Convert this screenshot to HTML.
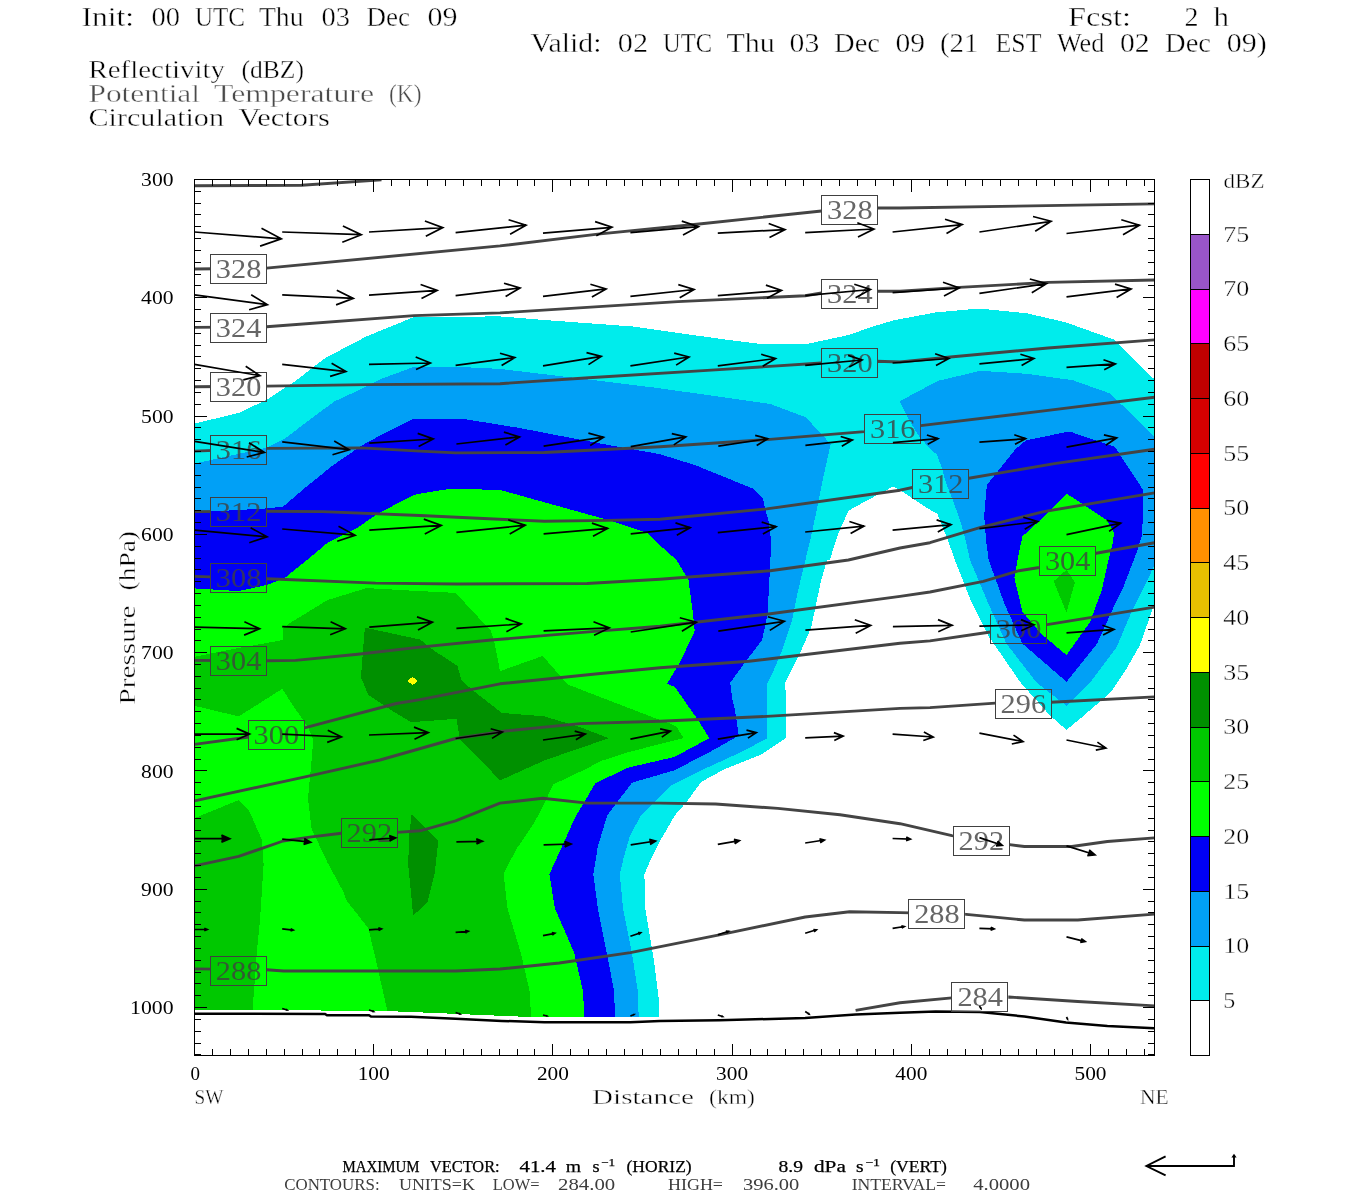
<!DOCTYPE html>
<html><head><meta charset="utf-8"><title>Cross section</title>
<style>
html,body{margin:0;padding:0;background:#fff}
svg{display:block}
text{font-family:"Liberation Serif",serif}
</style></head><body>
<svg width="1350" height="1200" viewBox="0 0 1350 1200">
<defs><clipPath id="pc"><rect x="194.5" y="179.5" width="960.0" height="876.0"/></clipPath>
<mask id="m0" maskUnits="userSpaceOnUse" x="0" y="0" width="1350" height="1200"><rect x="0" y="0" width="1350" height="1200" fill="#fff"/></mask>
<mask id="m1" maskUnits="userSpaceOnUse" x="0" y="0" width="1350" height="1200"><rect x="0" y="0" width="1350" height="1200" fill="#fff"/><rect x="210.2" y="254.4" width="56.5" height="29.4" fill="#000"/><rect x="821.5" y="195.4" width="56.5" height="29.4" fill="#000"/></mask>
<mask id="m2" maskUnits="userSpaceOnUse" x="0" y="0" width="1350" height="1200"><rect x="0" y="0" width="1350" height="1200" fill="#fff"/><rect x="210.2" y="313.3" width="56.5" height="29.4" fill="#000"/><rect x="821.5" y="279.2" width="56.5" height="29.4" fill="#000"/></mask>
<mask id="m3" maskUnits="userSpaceOnUse" x="0" y="0" width="1350" height="1200"><rect x="0" y="0" width="1350" height="1200" fill="#fff"/><rect x="210.2" y="371.9" width="56.5" height="29.4" fill="#000"/><rect x="821.5" y="348.0" width="56.5" height="29.4" fill="#000"/></mask>
<mask id="m4" maskUnits="userSpaceOnUse" x="0" y="0" width="1350" height="1200"><rect x="0" y="0" width="1350" height="1200" fill="#fff"/><rect x="210.2" y="435.1" width="56.5" height="29.4" fill="#000"/><rect x="864.4" y="414.4" width="56.5" height="29.4" fill="#000"/></mask>
<mask id="m5" maskUnits="userSpaceOnUse" x="0" y="0" width="1350" height="1200"><rect x="0" y="0" width="1350" height="1200" fill="#fff"/><rect x="912.4" y="469.0" width="56.5" height="29.4" fill="#000"/><rect x="210.2" y="497.1" width="56.5" height="29.4" fill="#000"/></mask>
<mask id="m6" maskUnits="userSpaceOnUse" x="0" y="0" width="1350" height="1200"><rect x="0" y="0" width="1350" height="1200" fill="#fff"/><rect x="210.2" y="563.0" width="56.5" height="29.4" fill="#000"/></mask>
<mask id="m7" maskUnits="userSpaceOnUse" x="0" y="0" width="1350" height="1200"><rect x="0" y="0" width="1350" height="1200" fill="#fff"/><rect x="210.2" y="646.3" width="56.5" height="29.4" fill="#000"/><rect x="1039.3" y="546.1" width="56.5" height="29.4" fill="#000"/></mask>
<mask id="m8" maskUnits="userSpaceOnUse" x="0" y="0" width="1350" height="1200"><rect x="0" y="0" width="1350" height="1200" fill="#fff"/><rect x="248.0" y="719.6" width="56.5" height="29.4" fill="#000"/><rect x="990.2" y="613.6" width="56.5" height="29.4" fill="#000"/></mask>
<mask id="m9" maskUnits="userSpaceOnUse" x="0" y="0" width="1350" height="1200"><rect x="0" y="0" width="1350" height="1200" fill="#fff"/><rect x="995.0" y="689.0" width="56.5" height="29.4" fill="#000"/></mask>
<mask id="m10" maskUnits="userSpaceOnUse" x="0" y="0" width="1350" height="1200"><rect x="0" y="0" width="1350" height="1200" fill="#fff"/><rect x="341.0" y="818.0" width="56.5" height="29.4" fill="#000"/><rect x="953.0" y="826.0" width="56.5" height="29.4" fill="#000"/></mask>
<mask id="m11" maskUnits="userSpaceOnUse" x="0" y="0" width="1350" height="1200"><rect x="0" y="0" width="1350" height="1200" fill="#fff"/><rect x="210.2" y="955.6" width="56.5" height="29.4" fill="#000"/><rect x="908.6" y="899.0" width="56.5" height="29.4" fill="#000"/></mask>
<mask id="m12" maskUnits="userSpaceOnUse" x="0" y="0" width="1350" height="1200"><rect x="0" y="0" width="1350" height="1200" fill="#fff"/><rect x="951.8" y="981.8" width="56.5" height="29.4" fill="#000"/></mask>
</defs>
<rect width="1350" height="1200" fill="#fff"/>
<g clip-path="url(#pc)" shape-rendering="crispEdges">
<polygon fill="#00ecec" points="194.5,423.6 238.7,412.9 267.0,399.6 295.6,380.9 325.2,358.0 366.7,336.3 414.0,317.0 500.0,316.4 544.4,320.0 633.0,326.5 719.0,338.7 763.7,344.3 808.0,343.7 849.6,334.8 870.0,327.4 893.3,320.4 936.0,312.4 978.7,308.5 1026.7,313.3 1066.0,322.4 1113.3,339.3 1143.0,369.0 1154.5,379.3 1154.5,602.7 1148.7,620.4 1139.8,645.3 1125.6,670.2 1111.3,691.6 1082.9,716.4 1066.5,729.8 1050.9,716.4 1020.7,682.7 988.7,636.4 970.9,600.9 954.9,560.0 947.8,540.0 940.7,522.2 937.1,513.3 930.0,509.8 900.0,490.2 892.9,486.7 866.2,500.9 848.4,510.7 837.8,534.7 829.8,559.9 827.1,560.0 820.9,581.3 816.4,602.7 811.1,627.6 800.4,652.4 785.3,682.7 785.8,700.0 785.8,738.2 761.8,754.2 724.4,769.3 701.3,781.8 687.1,801.3 674.7,815.6 660.4,840.4 648.9,863.6 644.4,874.2 645.2,908.1 654.1,961.5 658.5,997.0 659.1,1017.3 530.0,1017.0 420.0,1012.4 388.0,1011.1 252.9,1009.9 194.5,1009.9"/>
<polygon fill="#01a0f6" points="194.5,463.6 267.0,447.6 284.9,438.7 311.6,418.2 334.7,401.3 357.8,390.7 380.9,379.0 414.0,366.8 455.6,366.8 500.0,368.9 574.0,377.8 595.1,380.3 660.0,388.3 770.2,404.0 805.8,417.3 819.1,431.6 830.7,444.0 823.6,476.0 816.4,511.6 811.1,536.4 805.4,560.0 796.9,595.6 791.6,622.2 782.7,648.9 773.8,670.2 766.7,684.4 767.1,738.2 742.2,751.6 699.6,771.1 671.1,785.3 655.1,801.3 640.9,815.6 630.2,835.1 624.0,856.4 619.8,874.2 623.0,908.1 631.9,952.6 637.8,991.1 638.7,1017.3 530.0,1017.0 420.0,1012.4 388.0,1011.1 252.9,1009.9 194.5,1009.9"/>
<polygon fill="#01a0f6" points="899.6,401.3 937.8,380.9 980.4,370.8 1026.7,373.8 1066.0,379.3 1072.2,380.0 1109.6,393.3 1125.6,408.4 1154.5,436.9 1154.5,565.3 1143.3,588.4 1130.9,613.3 1116.7,647.1 1090.0,682.7 1066.5,705.8 1036.7,682.7 1006.4,643.6 988.7,604.4 970.0,560.0 965.6,540.0 960.2,520.4 953.1,500.9 944.9,479.9 942.2,468.9 936.9,454.7 928.9,447.6 918.2,435.1 907.6,417.3"/>
<polygon fill="#0000f6" points="194.5,512.4 267.1,508.4 283.1,506.6 304.4,488.4 332.9,465.3 361.3,445.8 380.9,435.1 412.9,418.8 420.0,419.5 462.7,418.8 519.6,428.0 597.8,443.1 660.0,454.2 695.6,465.3 752.4,488.4 763.1,499.1 764.9,508.0 768.4,520.4 771.1,540.0 770.4,560.0 767.6,613.3 762.2,640.0 747.1,659.6 730.2,682.7 732.4,700.0 735.1,710.7 738.7,735.6 713.8,749.8 674.7,770.2 632.0,782.7 617.8,801.3 607.1,815.6 597.8,846.7 593.3,874.2 597.8,908.1 606.7,952.6 614.1,991.1 615.0,1017.2 530.0,1017.0 420.0,1012.4 388.0,1011.1 252.9,1009.9 194.5,1009.9"/>
<polygon fill="#0000f6" points="1066.9,431.9 1072.2,432.4 1114.9,446.7 1125.6,463.6 1143.3,490.2 1143.1,515.0 1141.8,535.6 1138.2,548.0 1132.9,562.2 1122.2,590.0 1114.9,604.4 1097.1,643.6 1066.5,681.8 1022.4,643.6 1004.7,604.4 988.7,560.0 986.0,540.0 984.2,515.1 986.9,484.9 1015.3,449.3 1026.0,440.4"/>
<polygon fill="#00ff00" points="194.5,588.4 238.7,591.1 267.1,584.9 284.9,577.8 307.1,560.0 327.6,542.7 357.8,527.6 375.6,515.1 398.7,502.7 414.7,494.7 420.0,493.6 450.2,488.8 500.0,489.9 606.7,519.6 647.6,532.9 660.0,545.3 676.5,560.0 688.4,579.6 692.9,613.3 694.7,631.1 679.6,663.1 667.1,683.6 675.1,687.1 686.7,704.0 697.8,719.6 709.3,738.2 674.7,756.9 628.4,767.6 600.0,780.9 595.1,783.6 585.3,800.4 574.7,818.2 560.4,850.2 549.4,874.2 554.8,908.1 574.1,952.6 583.0,991.1 584.4,1017.1 530.0,1017.0 420.0,1012.4 388.0,1011.1 252.9,1009.9 194.5,1009.9"/>
<polygon fill="#00ff00" points="1066.9,493.8 1085.8,506.2 1107.1,520.4 1114.2,532.9 1112.4,544.4 1108.4,560.4 1101.8,590.0 1090.0,622.2 1066.5,655.1 1040.2,632.9 1022.4,611.6 1014.4,577.8 1017.5,560.0 1022.4,536.4 1043.8,516.9"/>
<polygon fill="#00c800" points="1066.5,569.8 1074.9,582.2 1066.5,612.4 1053.6,581.3"/>
<polygon fill="#00c800" points="194.5,656.9 238.7,648.0 283.1,640.0 283.1,628.4 288.4,624.0 327.6,600.0 366.7,588.1 420.0,591.1 455.6,592.9 491.1,631.1 494.7,643.6 500.0,671.1 542.7,656.0 567.6,684.4 600.0,697.0 660.0,720.0 671.1,724.0 676.4,726.7 683.6,738.2 630.2,751.6 600.0,761.3 587.1,768.4 553.3,784.4 542.7,806.7 533.8,823.6 516.9,848.4 503.6,873.3 507.4,908.1 520.7,952.6 529.6,991.1 531.1,1017.0 530.0,1017.0 420.0,1012.4 388.0,1011.1 387.4,1011.1 375.6,958.7 368.4,928.4 346.2,900.0 344.0,893.0 327.6,862.7 311.6,828.9 308.0,798.7 311.6,759.6 313.3,740.0 308.0,727.1 295.6,709.3 282.2,688.9 238.7,716.4 194.5,705.8"/>
<polygon fill="#00c800" points="194.5,818.2 238.7,800.1 249.3,811.1 261.8,839.6 263.6,864.4 260.0,919.9 257.0,949.6 252.6,1009.9 194.5,1009.9"/>
<polygon fill="#009000" points="364.9,627.6 420.0,639.5 434.2,650.7 457.3,665.8 461.8,680.9 473.3,690.7 501.8,712.9 544.4,716.4 580.0,727.1 608.9,738.2 544.4,760.4 500.0,780.5 478.7,757.8 460.0,740.0 456.4,718.8 411.0,722.2 389.8,709.3 368.4,695.1 361.0,677.3 363.1,648.9"/>
<polygon fill="#009000" points="411.7,813.9 438.4,840.6 434.8,872.6 427.4,902.2 413.2,915.6 408.1,863.7 409.6,831.1"/>
<polygon fill="#ffff00" points="407.2,681.0 412.5,676.8 418.2,681.0 412.5,685.0"/>
</g>
<g clip-path="url(#pc)">
<polyline fill="none" stroke="#000" stroke-width="2.5" points="194.5,1013.8 325.0,1013.9 327.0,1015.2 369.0,1015.3 371.0,1016.5 411.0,1016.7 455.6,1018.8 501.8,1020.9 544.4,1022.2 630.4,1022.2 660.0,1020.9 719.3,1020.3 805.2,1018.0 855.6,1014.4 900.0,1012.7 935.6,1011.5 980.0,1012.1 1024.4,1016.5 1066.0,1022.4 1107.4,1026.0 1154.5,1028.3"/>
<g fill="none" stroke="#444" stroke-width="2.9" stroke-linejoin="round">
<polyline mask="url(#m0)" points="194.5,185.8 301.5,185.2 381.5,179.9"/>
<polyline mask="url(#m1)" points="194.5,269.0 266.5,268.1 500.0,245.9 597.8,234.1 701.5,223.7 821.5,211.0 876.9,208.0 900.0,208.0 1154.5,203.9"/>
<polyline mask="url(#m2)" points="194.5,327.4 266.5,326.8 414.0,315.6 500.0,312.9 677.8,301.6 805.2,295.7 821.5,293.0 876.9,291.3 900.0,291.3 959.3,287.4 1048.0,282.4 1154.5,280.0"/>
<polyline mask="url(#m3)" points="194.5,386.7 266.5,386.1 366.7,384.6 500.0,383.7 588.9,377.8 707.4,370.4 821.5,363.0 876.9,361.2 900.0,362.0 950.4,357.0 1048.0,348.0 1154.5,339.9"/>
<polyline mask="url(#m4)" points="194.5,451.1 267.1,448.4 361.3,447.9 420.0,451.1 455.6,452.9 544.4,452.5 660.0,446.7 766.7,439.6 864.4,431.6 920.7,425.6 1048.0,410.4 1154.5,397.2"/>
<polyline mask="url(#m5)" points="194.5,511.6 267.1,511.2 322.2,511.6 420.0,515.5 544.4,521.3 606.7,520.4 660.0,519.3 766.7,508.9 900.0,490.2 912.5,487.5 968.8,478.3 1054.4,463.6 1154.5,449.3"/>
<polyline mask="url(#m6)" points="194.5,576.4 267.1,578.7 375.6,583.1 457.3,584.0 587.1,583.5 660.0,579.2 770.2,570.7 848.4,560.0 900.0,548.0 930.0,542.7 979.8,527.6 1043.8,511.6 1154.5,492.9"/>
<polyline mask="url(#m7)" points="194.5,660.4 267.1,660.8 295.6,660.4 357.8,654.2 420.0,647.1 491.1,640.0 597.8,631.1 660.0,626.2 766.7,614.2 900.0,596.4 930.0,592.0 983.3,581.3 1018.9,570.7 1039.3,567.5 1096.2,553.3 1154.5,542.7"/>
<polyline mask="url(#m8)" points="194.5,744.4 248.7,737.0 303.6,728.1 396.3,703.5 420.0,699.6 500.0,683.8 597.8,673.8 660.0,667.8 748.9,661.3 900.0,643.2 930.0,640.9 990.4,632.0 1045.6,624.9 1154.5,607.1"/>
<polyline mask="url(#m9)" points="194.5,800.9 307.4,776.3 380.0,760.0 455.6,738.5 505.3,731.0 580.0,723.6 660.0,721.3 766.7,716.4 900.0,708.4 930.0,707.6 995.4,703.1 1050.9,702.2 1154.5,696.9"/>
<polyline mask="url(#m10)" points="194.5,865.9 238.7,856.4 283.1,841.0 311.6,836.9 341.4,833.3 396.9,832.4 420.0,830.8 455.6,820.9 500.0,803.1 542.7,798.3 587.1,803.1 660.0,803.1 715.6,804.0 777.8,808.4 840.0,814.7 900.0,823.7 951.9,835.6 1007.6,844.4 1024.4,846.5 1071.9,846.5 1107.4,841.5 1154.5,837.9"/>
<polyline mask="url(#m11)" points="194.5,968.9 266.5,969.8 283.7,971.0 455.6,971.0 500.0,969.0 559.3,963.0 630.4,952.6 719.3,934.8 805.2,917.0 849.6,911.7 900.0,912.6 963.7,914.1 1024.4,920.0 1077.8,920.0 1154.5,914.1"/>
<polyline mask="url(#m12)" points="855.6,1010.4 900.0,1002.7 951.9,997.9 1008.7,997.0 1077.8,1001.5 1154.5,1005.9"/>
</g>
<g fill="none" stroke="#404040" stroke-width="1" font-size="28">
<rect shape-rendering="crispEdges" x="210.5" y="254.5" width="56" height="29"/>
<text stroke="none" fill="#404040" fill-opacity="0.8" x="215.8" y="278.3" textLength="45.5" lengthAdjust="spacingAndGlyphs">328</text>
<rect shape-rendering="crispEdges" x="821.5" y="195.5" width="56" height="29"/>
<text stroke="none" fill="#404040" fill-opacity="0.8" x="827.1" y="219.3" textLength="45.5" lengthAdjust="spacingAndGlyphs">328</text>
<rect shape-rendering="crispEdges" x="210.5" y="313.5" width="56" height="29"/>
<text stroke="none" fill="#404040" fill-opacity="0.8" x="215.8" y="337.2" textLength="45.5" lengthAdjust="spacingAndGlyphs">324</text>
<rect shape-rendering="crispEdges" x="821.5" y="279.5" width="56" height="29"/>
<text stroke="none" fill="#404040" fill-opacity="0.8" x="827.1" y="303.1" textLength="45.5" lengthAdjust="spacingAndGlyphs">324</text>
<rect shape-rendering="crispEdges" x="210.5" y="372.5" width="56" height="29"/>
<text stroke="none" fill="#404040" fill-opacity="0.8" x="215.8" y="395.8" textLength="45.5" lengthAdjust="spacingAndGlyphs">320</text>
<rect shape-rendering="crispEdges" x="821.5" y="348.5" width="56" height="29"/>
<text stroke="none" fill="#404040" fill-opacity="0.8" x="827.1" y="371.9" textLength="45.5" lengthAdjust="spacingAndGlyphs">320</text>
<rect shape-rendering="crispEdges" x="210.5" y="435.5" width="56" height="29"/>
<text stroke="none" fill="#404040" fill-opacity="0.8" x="215.8" y="459.0" textLength="45.5" lengthAdjust="spacingAndGlyphs">316</text>
<rect shape-rendering="crispEdges" x="864.5" y="414.5" width="56" height="29"/>
<text stroke="none" fill="#404040" fill-opacity="0.8" x="870.0" y="438.3" textLength="45.5" lengthAdjust="spacingAndGlyphs">316</text>
<rect shape-rendering="crispEdges" x="912.5" y="469.5" width="56" height="29"/>
<text stroke="none" fill="#404040" fill-opacity="0.8" x="918.0" y="492.9" textLength="45.5" lengthAdjust="spacingAndGlyphs">312</text>
<rect shape-rendering="crispEdges" x="210.5" y="497.5" width="56" height="29"/>
<text stroke="none" fill="#404040" fill-opacity="0.8" x="215.8" y="521.0" textLength="45.5" lengthAdjust="spacingAndGlyphs">312</text>
<rect shape-rendering="crispEdges" x="210.5" y="563.5" width="56" height="29"/>
<text stroke="none" fill="#404040" fill-opacity="0.8" x="215.8" y="586.9" textLength="45.5" lengthAdjust="spacingAndGlyphs">308</text>
<rect shape-rendering="crispEdges" x="210.5" y="646.5" width="56" height="29"/>
<text stroke="none" fill="#404040" fill-opacity="0.8" x="215.8" y="670.2" textLength="45.5" lengthAdjust="spacingAndGlyphs">304</text>
<rect shape-rendering="crispEdges" x="1039.5" y="546.5" width="56" height="29"/>
<text stroke="none" fill="#404040" fill-opacity="0.8" x="1044.9" y="570.0" textLength="45.5" lengthAdjust="spacingAndGlyphs">304</text>
<rect shape-rendering="crispEdges" x="248.5" y="720.5" width="56" height="29"/>
<text stroke="none" fill="#404040" fill-opacity="0.8" x="253.6" y="743.5" textLength="45.5" lengthAdjust="spacingAndGlyphs">300</text>
<rect shape-rendering="crispEdges" x="990.5" y="614.5" width="56" height="29"/>
<text stroke="none" fill="#404040" fill-opacity="0.8" x="995.8" y="637.5" textLength="45.5" lengthAdjust="spacingAndGlyphs">300</text>
<rect shape-rendering="crispEdges" x="995.5" y="689.5" width="56" height="29"/>
<text stroke="none" fill="#404040" fill-opacity="0.8" x="1000.6" y="712.9" textLength="45.5" lengthAdjust="spacingAndGlyphs">296</text>
<rect shape-rendering="crispEdges" x="341.5" y="818.5" width="56" height="29"/>
<text stroke="none" fill="#404040" fill-opacity="0.8" x="346.6" y="841.9" textLength="45.5" lengthAdjust="spacingAndGlyphs">292</text>
<rect shape-rendering="crispEdges" x="953.5" y="826.5" width="56" height="29"/>
<text stroke="none" fill="#404040" fill-opacity="0.8" x="958.6" y="849.9" textLength="45.5" lengthAdjust="spacingAndGlyphs">292</text>
<rect shape-rendering="crispEdges" x="210.5" y="956.5" width="56" height="29"/>
<text stroke="none" fill="#404040" fill-opacity="0.8" x="215.8" y="979.5" textLength="45.5" lengthAdjust="spacingAndGlyphs">288</text>
<rect shape-rendering="crispEdges" x="908.5" y="899.5" width="56" height="29"/>
<text stroke="none" fill="#404040" fill-opacity="0.8" x="914.2" y="922.9" textLength="45.5" lengthAdjust="spacingAndGlyphs">288</text>
<rect shape-rendering="crispEdges" x="951.5" y="982.5" width="56" height="29"/>
<text stroke="none" fill="#404040" fill-opacity="0.8" x="957.4" y="1005.7" textLength="45.5" lengthAdjust="spacingAndGlyphs">284</text>
</g>
<path d="M194.5 232.0L281.3 238.8M261.5 228.3L281.3 238.8L260.1 246.1M282.2 232.0L361.3 234.7M342.9 225.9L361.3 234.7L342.3 242.2M369.0 232.0L442.8 227.6M424.9 221.0L442.8 227.6L425.8 236.2M455.6 232.6L526.0 225.2M508.6 219.7L526.0 225.2L510.1 234.2M543.0 233.2L612.0 227.3M595.1 221.6L612.0 227.3L596.3 235.8M630.4 232.6L698.5 226.7M681.8 221.1L698.5 226.7L683.0 235.1M717.8 233.2L785.0 229.6M768.7 223.5L785.0 229.6L769.5 237.4M805.2 232.6L873.9 229.0M857.3 222.8L873.9 229.0L858.0 236.9M892.6 232.0L962.2 224.6M945.0 219.2L962.2 224.6L946.5 233.5M979.4 232.0L1051.1 221.3M1033.0 216.5L1051.1 221.3L1035.2 231.2M1066.5 233.5L1139.4 225.2M1121.3 219.7L1139.4 225.2L1123.0 234.7M194.5 294.8L267.4 304.6M251.2 294.8L267.4 304.6L249.1 309.8M282.2 294.8L353.3 298.4M336.8 290.2L353.3 298.4L336.1 304.9M369.0 295.1L437.2 290.4M420.6 284.5L437.2 290.4L421.5 298.5M455.6 295.7L520.1 288.0M504.0 283.2L520.1 288.0L505.6 296.5M543.0 296.3L606.1 288.9M590.4 284.2L606.1 288.9L591.9 297.1M630.4 296.3L694.1 289.5M678.3 284.6L694.1 289.5L679.7 297.7M717.8 295.7L781.5 290.4M765.9 285.1L781.5 290.4L767.0 298.2M805.2 295.7L870.4 289.5M854.3 284.3L870.4 289.5L855.6 297.7M892.6 292.7L959.3 288.0M943.0 282.3L959.3 288.0L944.0 296.0M979.4 293.3L1046.7 283.6M1029.8 279.0L1046.7 283.6L1031.8 292.8M1066.5 296.9L1131.1 288.9M1115.0 284.1L1131.1 288.9L1116.6 297.4M194.5 364.4L260.0 375.7M245.7 366.3L260.0 375.7L243.3 379.8M282.2 364.4L345.9 371.6M331.6 363.3L345.9 371.6L330.1 376.4M369.0 364.4L430.4 363.0M415.7 357.0L430.4 363.0L416.0 369.6M455.6 365.3L514.8 357.6M500.0 353.3L514.8 357.6L501.6 365.5M543.0 365.9L601.3 356.4M586.5 352.6L601.3 356.4L588.5 364.6M630.4 365.9L689.0 357.0M674.2 353.1L689.0 357.0L676.1 365.1M717.8 365.9L775.6 358.5M761.2 354.3L775.6 358.5L762.7 366.2M805.2 365.3L862.1 360.0M848.1 355.4L862.1 360.0L849.2 367.1M892.6 363.0L948.9 358.5M935.1 353.8L948.9 358.5L936.0 365.4M979.4 363.9L1033.9 358.5M1020.4 354.2L1033.9 358.5L1021.6 365.4M1066.5 367.4L1115.4 363.9M1103.5 359.7L1115.4 363.9L1104.2 369.8M194.6 441.3L264.4 452.5M249.0 442.7L264.4 452.5L246.7 457.0M282.2 441.9L349.2 449.7M334.2 441.0L349.2 449.7L332.5 454.7M369.3 443.1L433.3 439.0M417.7 433.4L433.3 439.0L418.6 446.6M456.4 444.0L519.6 436.9M503.9 432.1L519.6 436.9L505.4 445.1M543.6 446.1L603.5 437.2M588.4 433.1L603.5 437.2L590.2 445.5M630.7 446.7L685.8 436.9M671.8 433.6L685.8 436.9L673.8 444.9M718.3 446.1L767.6 438.7M755.2 435.4L767.6 438.7L756.7 445.5M805.4 445.4L852.4 440.1M840.7 436.5L852.4 440.1L841.8 446.2M892.9 442.6L938.0 438.7M926.9 435.0L938.0 438.7L927.7 444.3M979.4 442.2L1025.6 438.7M1014.3 434.8L1025.6 438.7L1015.0 444.3M1066.5 447.2L1116.7 437.8M1103.9 434.9L1116.7 437.8L1105.8 445.2M194.6 530.2L267.1 536.8M250.6 527.8L267.1 536.8L249.3 542.7M282.2 529.0L355.1 535.2M338.5 526.2L355.1 535.2L337.2 541.2M369.3 530.2L441.3 525.4M423.8 519.1L441.3 525.4L424.8 533.9M456.4 532.4L525.2 525.2M508.2 519.8L525.2 525.2L509.7 534.0M543.6 533.8L607.6 528.4M591.9 523.1L607.6 528.4L593.0 536.3M630.7 533.8L690.2 527.6M675.5 522.9L690.2 527.6L676.8 535.2M717.8 532.6L776.1 526.7M761.7 522.1L776.1 526.7L762.9 534.1M805.2 532.0L863.9 526.1M849.4 521.5L863.9 526.1L850.6 533.5M892.6 530.2L951.0 524.6M936.6 519.9L951.0 524.6L937.8 531.9M979.4 528.7L1037.8 521.6M1023.3 517.3L1037.8 521.6L1024.7 529.3M1066.5 534.7L1120.7 523.1M1106.7 520.3L1120.7 523.1L1109.1 531.4M194.6 627.2L259.6 628.8M244.4 621.7L259.6 628.8L244.1 635.1M282.2 626.7L345.3 628.8M330.6 621.8L345.3 628.8L330.2 634.8M369.3 627.2L432.4 622.2M417.0 616.9L432.4 622.2L418.0 629.9M456.4 628.4L521.3 624.0M505.5 618.4L521.3 624.0L506.4 631.7M543.6 630.8L609.3 627.9M593.5 621.8L609.3 627.9L594.1 635.3M630.7 632.0L696.4 622.2M679.8 617.8L696.4 622.2L681.9 631.3M718.3 631.1L784.4 621.3M767.8 616.8L784.4 621.3L769.8 630.4M805.4 630.2L870.7 625.4M854.8 619.8L870.7 625.4L855.7 633.3M892.9 626.7L952.2 625.4M938.0 619.6L952.2 625.4L938.3 631.8M979.4 626.1L1034.0 624.9M1021.0 619.6L1034.0 624.9L1021.2 630.8M1066.5 632.9L1114.0 629.3M1102.4 625.3L1114.0 629.3L1103.1 635.0M194.5 734.1L249.6 734.1M236.6 728.4L249.6 734.1L236.6 739.8M282.2 734.1L341.5 737.0M327.8 730.2L341.5 737.0L327.2 742.4M369.0 735.0L428.3 732.6M414.0 727.1L428.3 732.6L414.5 739.3M455.6 738.5L502.4 732.0M490.7 728.7L502.4 732.0L492.0 738.4M543.0 740.0L585.3 734.1M574.7 731.1L585.3 734.1L575.9 739.8M630.4 739.1L670.4 731.1M660.1 728.9L670.4 731.1L661.8 737.1M717.8 739.1L756.3 732.6M746.5 730.2L756.3 732.6L747.9 738.1M805.2 737.9L843.1 736.1M833.9 732.6L843.1 736.1L834.3 740.4M892.6 734.1L933.2 737.0M923.9 732.1L933.2 737.0L923.3 740.5M979.4 733.2L1023.0 741.5M1013.5 735.1L1023.0 741.5L1011.8 744.0M1066.5 740.0L1105.9 748.0M1097.4 742.1L1105.9 748.0L1095.8 750.2M194.6 838.7L229.8 838.7M221.5 835.1L229.8 838.7L221.5 842.3M282.2 839.2L310.7 842.2M304.3 838.6L310.7 842.2L303.6 844.4M369.3 839.9L395.6 837.8M389.2 835.6L395.6 837.8L389.6 841.0M456.4 841.9L482.6 841.3M476.3 838.7L482.6 841.3L476.5 844.1M543.6 844.9L571.1 844.0M564.5 841.4L571.1 844.0L564.7 847.0M630.7 844.9L655.6 841.0M649.3 839.4L655.6 841.0L650.1 844.5M717.8 844.4L739.4 840.6M733.9 839.3L739.4 840.6L734.7 843.7M805.2 843.0L824.4 840.0M819.5 838.7L824.4 840.0L820.2 842.7M892.6 838.5L910.4 839.1M906.3 837.1L910.4 839.1L906.1 840.8M979.4 837.6L1002.2 845.3M997.6 841.1L1002.2 845.3L996.0 845.8M1066.5 845.9L1095.0 854.8M1089.2 849.8L1095.0 854.8L1087.3 855.6M194.5 929.5L207.3 929.5M204.3 928.2L207.3 929.5L204.3 930.8M282.2 928.9L293.2 930.1M290.7 928.7L293.2 930.1L290.5 930.9M369.0 929.8L381.5 928.9M378.4 927.8L381.5 928.9L378.6 930.4M455.6 932.4L468.3 931.3M465.2 930.3L468.3 931.3L465.4 932.9M543.0 935.7L554.8 933.3M551.8 932.7L554.8 933.3L552.3 935.1M630.4 936.3L640.7 932.7M637.9 932.5L640.7 932.7L638.6 934.6M717.8 934.8L728.7 931.3M725.8 931.0L728.7 931.3L726.5 933.2M805.2 933.3L816.4 929.8M813.4 929.5L816.4 929.8L814.1 931.8M892.6 928.3L904.4 926.5M901.4 925.7L904.4 926.5L901.8 928.1M979.4 928.3L994.2 928.9M990.8 927.2L994.2 928.9L990.6 930.3M1066.5 936.9L1085.2 941.6M1081.3 938.6L1085.2 941.6L1080.3 942.4M282.2 1008.5L287.0 1010.0M286.0 1009.2L287.0 1010.0L285.7 1010.1M369.0 1010.0L373.5 1011.5M372.6 1010.7L373.5 1011.5L372.3 1011.6M455.6 1012.5L460.0 1014.0M459.1 1013.2L460.0 1014.0L458.8 1014.1M543.0 1015.0L547.0 1016.0M546.2 1015.4L547.0 1016.0L546.0 1016.2M630.4 1016.0L634.0 1014.5M633.0 1014.5L634.0 1014.5L633.3 1015.2M717.8 1015.0L722.5 1016.5M721.5 1015.7L722.5 1016.5L721.2 1016.6M805.2 1011.5L809.0 1014.0M808.4 1013.0L809.0 1014.0L807.8 1013.8M979.4 1006.0L981.0 1008.5M980.9 1007.7L981.0 1008.5L980.4 1008.1M1066.5 1017.0L1067.5 1019.0M1067.5 1018.4L1067.5 1019.0L1067.1 1018.6" fill="none" stroke="#000" stroke-width="1.7"/>
<path d="M221.5 835.1L229.8 838.7L221.5 842.3ZM304.3 838.6L310.7 842.2L303.6 844.4ZM389.2 835.6L395.6 837.8L389.6 841.0ZM476.3 838.7L482.6 841.3L476.5 844.1ZM564.5 841.4L571.1 844.0L564.7 847.0ZM649.3 839.4L655.6 841.0L650.1 844.5ZM733.9 839.3L739.4 840.6L734.7 843.7ZM819.5 838.7L824.4 840.0L820.2 842.7ZM906.3 837.1L910.4 839.1L906.1 840.8ZM997.6 841.1L1002.2 845.3L996.0 845.8ZM1089.2 849.8L1095.0 854.8L1087.3 855.6ZM204.3 928.2L207.3 929.5L204.3 930.8ZM290.7 928.7L293.2 930.1L290.5 930.9ZM378.4 927.8L381.5 928.9L378.6 930.4ZM465.2 930.3L468.3 931.3L465.4 932.9ZM551.8 932.7L554.8 933.3L552.3 935.1ZM637.9 932.5L640.7 932.7L638.6 934.6ZM725.8 931.0L728.7 931.3L726.5 933.2ZM813.4 929.5L816.4 929.8L814.1 931.8ZM901.4 925.7L904.4 926.5L901.8 928.1ZM990.8 927.2L994.2 928.9L990.6 930.3ZM1081.3 938.6L1085.2 941.6L1080.3 942.4ZM286.0 1009.2L287.0 1010.0L285.7 1010.1ZM372.6 1010.7L373.5 1011.5L372.3 1011.6ZM459.1 1013.2L460.0 1014.0L458.8 1014.1ZM546.2 1015.4L547.0 1016.0L546.0 1016.2ZM633.0 1014.5L634.0 1014.5L633.3 1015.2ZM721.5 1015.7L722.5 1016.5L721.2 1016.6ZM808.4 1013.0L809.0 1014.0L807.8 1013.8ZM980.9 1007.7L981.0 1008.5L980.4 1008.1ZM1067.5 1018.4L1067.5 1019.0L1067.1 1018.6Z" fill="#000"/>
</g>
<path d="M194.5 179.5v12.0M194.5 1055.5v-12.0M212.5 179.5v6.5M212.5 1055.5v-6.5M230.5 179.5v6.5M230.5 1055.5v-6.5M248.5 179.5v6.5M248.5 1055.5v-6.5M266.5 179.5v6.5M266.5 1055.5v-6.5M284.5 179.5v6.5M284.5 1055.5v-6.5M302.5 179.5v6.5M302.5 1055.5v-6.5M319.5 179.5v6.5M319.5 1055.5v-6.5M337.5 179.5v6.5M337.5 1055.5v-6.5M355.5 179.5v6.5M355.5 1055.5v-6.5M373.5 179.5v12.0M373.5 1055.5v-12.0M391.5 179.5v6.5M391.5 1055.5v-6.5M409.5 179.5v6.5M409.5 1055.5v-6.5M427.5 179.5v6.5M427.5 1055.5v-6.5M445.5 179.5v6.5M445.5 1055.5v-6.5M463.5 179.5v6.5M463.5 1055.5v-6.5M481.5 179.5v6.5M481.5 1055.5v-6.5M499.5 179.5v6.5M499.5 1055.5v-6.5M517.5 179.5v6.5M517.5 1055.5v-6.5M534.5 179.5v6.5M534.5 1055.5v-6.5M552.5 179.5v12.0M552.5 1055.5v-12.0M570.5 179.5v6.5M570.5 1055.5v-6.5M588.5 179.5v6.5M588.5 1055.5v-6.5M606.5 179.5v6.5M606.5 1055.5v-6.5M624.5 179.5v6.5M624.5 1055.5v-6.5M642.5 179.5v6.5M642.5 1055.5v-6.5M660.5 179.5v6.5M660.5 1055.5v-6.5M678.5 179.5v6.5M678.5 1055.5v-6.5M696.5 179.5v6.5M696.5 1055.5v-6.5M714.5 179.5v6.5M714.5 1055.5v-6.5M732.5 179.5v12.0M732.5 1055.5v-12.0M750.5 179.5v6.5M750.5 1055.5v-6.5M767.5 179.5v6.5M767.5 1055.5v-6.5M785.5 179.5v6.5M785.5 1055.5v-6.5M803.5 179.5v6.5M803.5 1055.5v-6.5M821.5 179.5v6.5M821.5 1055.5v-6.5M839.5 179.5v6.5M839.5 1055.5v-6.5M857.5 179.5v6.5M857.5 1055.5v-6.5M875.5 179.5v6.5M875.5 1055.5v-6.5M893.5 179.5v6.5M893.5 1055.5v-6.5M911.5 179.5v12.0M911.5 1055.5v-12.0M929.5 179.5v6.5M929.5 1055.5v-6.5M947.5 179.5v6.5M947.5 1055.5v-6.5M965.5 179.5v6.5M965.5 1055.5v-6.5M982.5 179.5v6.5M982.5 1055.5v-6.5M1000.5 179.5v6.5M1000.5 1055.5v-6.5M1018.5 179.5v6.5M1018.5 1055.5v-6.5M1036.5 179.5v6.5M1036.5 1055.5v-6.5M1054.5 179.5v6.5M1054.5 1055.5v-6.5M1072.5 179.5v6.5M1072.5 1055.5v-6.5M1090.5 179.5v12.0M1090.5 1055.5v-12.0M1108.5 179.5v6.5M1108.5 1055.5v-6.5M1126.5 179.5v6.5M1126.5 1055.5v-6.5M1144.5 179.5v6.5M1144.5 1055.5v-6.5M194.5 179.5h12.0M1154.5 179.5h-12.0M194.5 191.5h6.5M1154.5 191.5h-6.5M194.5 203.5h6.5M1154.5 203.5h-6.5M194.5 214.5h6.5M1154.5 214.5h-6.5M194.5 226.5h6.5M1154.5 226.5h-6.5M194.5 238.5h6.5M1154.5 238.5h-6.5M194.5 250.5h6.5M1154.5 250.5h-6.5M194.5 262.5h6.5M1154.5 262.5h-6.5M194.5 274.5h6.5M1154.5 274.5h-6.5M194.5 285.5h6.5M1154.5 285.5h-6.5M194.5 297.5h12.0M1154.5 297.5h-12.0M194.5 309.5h6.5M1154.5 309.5h-6.5M194.5 321.5h6.5M1154.5 321.5h-6.5M194.5 333.5h6.5M1154.5 333.5h-6.5M194.5 345.5h6.5M1154.5 345.5h-6.5M194.5 356.5h6.5M1154.5 356.5h-6.5M194.5 368.5h6.5M1154.5 368.5h-6.5M194.5 380.5h6.5M1154.5 380.5h-6.5M194.5 392.5h6.5M1154.5 392.5h-6.5M194.5 404.5h6.5M1154.5 404.5h-6.5M194.5 416.5h12.0M1154.5 416.5h-12.0M194.5 427.5h6.5M1154.5 427.5h-6.5M194.5 439.5h6.5M1154.5 439.5h-6.5M194.5 451.5h6.5M1154.5 451.5h-6.5M194.5 463.5h6.5M1154.5 463.5h-6.5M194.5 475.5h6.5M1154.5 475.5h-6.5M194.5 487.5h6.5M1154.5 487.5h-6.5M194.5 498.5h6.5M1154.5 498.5h-6.5M194.5 510.5h6.5M1154.5 510.5h-6.5M194.5 522.5h6.5M1154.5 522.5h-6.5M194.5 534.5h12.0M1154.5 534.5h-12.0M194.5 546.5h6.5M1154.5 546.5h-6.5M194.5 558.5h6.5M1154.5 558.5h-6.5M194.5 569.5h6.5M1154.5 569.5h-6.5M194.5 581.5h6.5M1154.5 581.5h-6.5M194.5 593.5h6.5M1154.5 593.5h-6.5M194.5 605.5h6.5M1154.5 605.5h-6.5M194.5 617.5h6.5M1154.5 617.5h-6.5M194.5 629.5h6.5M1154.5 629.5h-6.5M194.5 640.5h6.5M1154.5 640.5h-6.5M194.5 652.5h12.0M1154.5 652.5h-12.0M194.5 664.5h6.5M1154.5 664.5h-6.5M194.5 676.5h6.5M1154.5 676.5h-6.5M194.5 688.5h6.5M1154.5 688.5h-6.5M194.5 699.5h6.5M1154.5 699.5h-6.5M194.5 711.5h6.5M1154.5 711.5h-6.5M194.5 723.5h6.5M1154.5 723.5h-6.5M194.5 735.5h6.5M1154.5 735.5h-6.5M194.5 747.5h6.5M1154.5 747.5h-6.5M194.5 759.5h6.5M1154.5 759.5h-6.5M194.5 770.5h12.0M1154.5 770.5h-12.0M194.5 782.5h6.5M1154.5 782.5h-6.5M194.5 794.5h6.5M1154.5 794.5h-6.5M194.5 806.5h6.5M1154.5 806.5h-6.5M194.5 818.5h6.5M1154.5 818.5h-6.5M194.5 830.5h6.5M1154.5 830.5h-6.5M194.5 841.5h6.5M1154.5 841.5h-6.5M194.5 853.5h6.5M1154.5 853.5h-6.5M194.5 865.5h6.5M1154.5 865.5h-6.5M194.5 877.5h6.5M1154.5 877.5h-6.5M194.5 889.5h12.0M1154.5 889.5h-12.0M194.5 901.5h6.5M1154.5 901.5h-6.5M194.5 912.5h6.5M1154.5 912.5h-6.5M194.5 924.5h6.5M1154.5 924.5h-6.5M194.5 936.5h6.5M1154.5 936.5h-6.5M194.5 948.5h6.5M1154.5 948.5h-6.5M194.5 960.5h6.5M1154.5 960.5h-6.5M194.5 972.5h6.5M1154.5 972.5h-6.5M194.5 983.5h6.5M1154.5 983.5h-6.5M194.5 995.5h6.5M1154.5 995.5h-6.5M194.5 1007.5h12.0M1154.5 1007.5h-12.0M194.5 1019.5h6.5M1154.5 1019.5h-6.5M194.5 1031.5h6.5M1154.5 1031.5h-6.5M194.5 1043.5h6.5M1154.5 1043.5h-6.5M194.5 1054.5h6.5M1154.5 1054.5h-6.5" stroke="#000" stroke-width="1" fill="none" shape-rendering="crispEdges"/>
<rect x="194.5" y="179.5" width="960.0" height="876.0" fill="none" stroke="#000" stroke-width="1.3" shape-rendering="crispEdges"/>
<g shape-rendering="crispEdges"><rect x="1190.5" y="179.50" width="19" height="54.75" fill="#fff" stroke="#000" stroke-width="1"/><rect x="1190.5" y="234.25" width="19" height="54.75" fill="#9955c9" stroke="#000" stroke-width="1"/><rect x="1190.5" y="289.00" width="19" height="54.75" fill="#ff00ff" stroke="#000" stroke-width="1"/><rect x="1190.5" y="343.75" width="19" height="54.75" fill="#c00000" stroke="#000" stroke-width="1"/><rect x="1190.5" y="398.50" width="19" height="54.75" fill="#d60000" stroke="#000" stroke-width="1"/><rect x="1190.5" y="453.25" width="19" height="54.75" fill="#ff0000" stroke="#000" stroke-width="1"/><rect x="1190.5" y="508.00" width="19" height="54.75" fill="#ff9000" stroke="#000" stroke-width="1"/><rect x="1190.5" y="562.75" width="19" height="54.75" fill="#e7c000" stroke="#000" stroke-width="1"/><rect x="1190.5" y="617.50" width="19" height="54.75" fill="#ffff00" stroke="#000" stroke-width="1"/><rect x="1190.5" y="672.25" width="19" height="54.75" fill="#009000" stroke="#000" stroke-width="1"/><rect x="1190.5" y="727.00" width="19" height="54.75" fill="#00c800" stroke="#000" stroke-width="1"/><rect x="1190.5" y="781.75" width="19" height="54.75" fill="#00ff00" stroke="#000" stroke-width="1"/><rect x="1190.5" y="836.50" width="19" height="54.75" fill="#0000f6" stroke="#000" stroke-width="1"/><rect x="1190.5" y="891.25" width="19" height="54.75" fill="#01a0f6" stroke="#000" stroke-width="1"/><rect x="1190.5" y="946.00" width="19" height="54.75" fill="#00ecec" stroke="#000" stroke-width="1"/><rect x="1190.5" y="1000.75" width="19" height="54.75" fill="#fff" stroke="#000" stroke-width="1"/></g>
<g font-size="23.5" stroke="#fff" stroke-width="0.4"><text x="1223.2" y="241.7" textLength="26" lengthAdjust="spacingAndGlyphs">75</text><text x="1223.2" y="296.4" textLength="26" lengthAdjust="spacingAndGlyphs">70</text><text x="1223.2" y="351.1" textLength="26" lengthAdjust="spacingAndGlyphs">65</text><text x="1223.2" y="405.9" textLength="26" lengthAdjust="spacingAndGlyphs">60</text><text x="1223.2" y="460.6" textLength="26" lengthAdjust="spacingAndGlyphs">55</text><text x="1223.2" y="515.4" textLength="26" lengthAdjust="spacingAndGlyphs">50</text><text x="1223.2" y="570.1" textLength="26" lengthAdjust="spacingAndGlyphs">45</text><text x="1223.2" y="624.9" textLength="26" lengthAdjust="spacingAndGlyphs">40</text><text x="1223.2" y="679.6" textLength="26" lengthAdjust="spacingAndGlyphs">35</text><text x="1223.2" y="734.4" textLength="26" lengthAdjust="spacingAndGlyphs">30</text><text x="1223.2" y="789.1" textLength="26" lengthAdjust="spacingAndGlyphs">25</text><text x="1223.2" y="843.9" textLength="26" lengthAdjust="spacingAndGlyphs">20</text><text x="1223.2" y="898.6" textLength="26" lengthAdjust="spacingAndGlyphs">15</text><text x="1223.2" y="953.4" textLength="26" lengthAdjust="spacingAndGlyphs">10</text><text x="1223.2" y="1008.1" textLength="12" lengthAdjust="spacingAndGlyphs">5</text></g>
<g><text x="81.5" y="26.0" font-size="27" textLength="52.5" lengthAdjust="spacingAndGlyphs"  stroke="#fff" stroke-width="0.4">Init:</text>
<text x="151.5" y="26.0" font-size="27" textLength="28.5" lengthAdjust="spacingAndGlyphs"  stroke="#fff" stroke-width="0.4">00</text>
<text x="195.0" y="26.0" font-size="27" textLength="50.0" lengthAdjust="spacingAndGlyphs"  stroke="#fff" stroke-width="0.4">UTC</text>
<text x="259.0" y="26.0" font-size="27" textLength="44.5" lengthAdjust="spacingAndGlyphs"  stroke="#fff" stroke-width="0.4">Thu</text>
<text x="321.5" y="26.0" font-size="27" textLength="28.5" lengthAdjust="spacingAndGlyphs"  stroke="#fff" stroke-width="0.4">03</text>
<text x="366.5" y="26.0" font-size="27" textLength="43.5" lengthAdjust="spacingAndGlyphs"  stroke="#fff" stroke-width="0.4">Dec</text>
<text x="427.5" y="26.0" font-size="27" textLength="30.0" lengthAdjust="spacingAndGlyphs"  stroke="#fff" stroke-width="0.4">09</text>
<text x="1068.0" y="25.5" font-size="27" textLength="63.0" lengthAdjust="spacingAndGlyphs"  stroke="#fff" stroke-width="0.4">Fcst:</text>
<text x="1184.5" y="25.5" font-size="27" textLength="14.0" lengthAdjust="spacingAndGlyphs"  stroke="#fff" stroke-width="0.4">2</text>
<text x="1213.5" y="25.5" font-size="27" textLength="15.5" lengthAdjust="spacingAndGlyphs"  stroke="#fff" stroke-width="0.4">h</text>
<text x="530.4" y="51.8" font-size="27" textLength="71.1" lengthAdjust="spacingAndGlyphs"  stroke="#fff" stroke-width="0.4">Valid:</text>
<text x="617.8" y="51.8" font-size="27" textLength="30.2" lengthAdjust="spacingAndGlyphs"  stroke="#fff" stroke-width="0.4">02</text>
<text x="663.0" y="51.8" font-size="27" textLength="49.0" lengthAdjust="spacingAndGlyphs"  stroke="#fff" stroke-width="0.4">UTC</text>
<text x="726.5" y="51.8" font-size="27" textLength="48.3" lengthAdjust="spacingAndGlyphs"  stroke="#fff" stroke-width="0.4">Thu</text>
<text x="789.6" y="51.8" font-size="27" textLength="29.7" lengthAdjust="spacingAndGlyphs"  stroke="#fff" stroke-width="0.4">03</text>
<text x="834.0" y="51.8" font-size="27" textLength="46.0" lengthAdjust="spacingAndGlyphs"  stroke="#fff" stroke-width="0.4">Dec</text>
<text x="895.4" y="51.8" font-size="27" textLength="29.6" lengthAdjust="spacingAndGlyphs"  stroke="#fff" stroke-width="0.4">09</text>
<text x="940.0" y="51.8" font-size="27" textLength="38.4" lengthAdjust="spacingAndGlyphs"  stroke="#fff" stroke-width="0.4">(21</text>
<text x="995.6" y="51.8" font-size="27" textLength="45.9" lengthAdjust="spacingAndGlyphs"  stroke="#fff" stroke-width="0.4">EST</text>
<text x="1057.0" y="51.8" font-size="27" textLength="47.3" lengthAdjust="spacingAndGlyphs"  stroke="#fff" stroke-width="0.4">Wed</text>
<text x="1120.0" y="51.8" font-size="27" textLength="29.6" lengthAdjust="spacingAndGlyphs"  stroke="#fff" stroke-width="0.4">02</text>
<text x="1165.0" y="51.8" font-size="27" textLength="46.0" lengthAdjust="spacingAndGlyphs"  stroke="#fff" stroke-width="0.4">Dec</text>
<text x="1226.7" y="51.8" font-size="27" textLength="40.0" lengthAdjust="spacingAndGlyphs"  stroke="#fff" stroke-width="0.4">09)</text>
<text x="88.5" y="77.5" font-size="25.5" textLength="136.5" lengthAdjust="spacingAndGlyphs"  stroke="#fff" stroke-width="0.4">Reflectivity</text>
<text x="241.5" y="77.5" font-size="25.5" textLength="62.5" lengthAdjust="spacingAndGlyphs"  stroke="#fff" stroke-width="0.4">(dBZ)</text>
<text x="88.5" y="102.3" font-size="25.5" textLength="111.5" lengthAdjust="spacingAndGlyphs" fill="#4a4a4a" stroke="#fff" stroke-width="0.4">Potential</text>
<text x="214.0" y="102.3" font-size="25.5" textLength="160.0" lengthAdjust="spacingAndGlyphs" fill="#4a4a4a" stroke="#fff" stroke-width="0.4">Temperature</text>
<text x="389.0" y="102.3" font-size="25.5" textLength="32.5" lengthAdjust="spacingAndGlyphs" fill="#4a4a4a" stroke="#fff" stroke-width="0.4">(K)</text>
<text x="88.5" y="126.0" font-size="25.5" textLength="135.5" lengthAdjust="spacingAndGlyphs"  stroke="#fff" stroke-width="0.4">Circulation</text>
<text x="238.5" y="126.0" font-size="25.5" textLength="91.5" lengthAdjust="spacingAndGlyphs"  stroke="#fff" stroke-width="0.4">Vectors</text>
<text x="1223.5" y="188.0" font-size="22" textLength="41.0" lengthAdjust="spacingAndGlyphs"  stroke="#fff" stroke-width="0.4">dBZ</text>
<text x="141.1" y="186.1" font-size="19.5" textLength="32.4" lengthAdjust="spacingAndGlyphs" >300</text>
<text x="141.1" y="304.4" font-size="19.5" textLength="32.4" lengthAdjust="spacingAndGlyphs" >400</text>
<text x="141.1" y="422.7" font-size="19.5" textLength="32.4" lengthAdjust="spacingAndGlyphs" >500</text>
<text x="141.1" y="541.0" font-size="19.5" textLength="32.4" lengthAdjust="spacingAndGlyphs" >600</text>
<text x="141.1" y="659.3" font-size="19.5" textLength="32.4" lengthAdjust="spacingAndGlyphs" >700</text>
<text x="141.1" y="777.6" font-size="19.5" textLength="32.4" lengthAdjust="spacingAndGlyphs" >800</text>
<text x="141.1" y="895.8" font-size="19.5" textLength="32.4" lengthAdjust="spacingAndGlyphs" >900</text>
<text x="130.0" y="1014.1" font-size="19.5" textLength="43.5" lengthAdjust="spacingAndGlyphs" >1000</text>
<text x="190.5" y="1080.3" font-size="19.5" textLength="9.5" lengthAdjust="spacingAndGlyphs" >0</text>
<text x="357.7" y="1080.3" font-size="19.5" textLength="32.0" lengthAdjust="spacingAndGlyphs" >100</text>
<text x="536.9" y="1080.3" font-size="19.5" textLength="32.0" lengthAdjust="spacingAndGlyphs" >200</text>
<text x="716.1" y="1080.3" font-size="19.5" textLength="32.0" lengthAdjust="spacingAndGlyphs" >300</text>
<text x="895.3" y="1080.3" font-size="19.5" textLength="32.0" lengthAdjust="spacingAndGlyphs" >400</text>
<text x="1074.5" y="1080.3" font-size="19.5" textLength="32.0" lengthAdjust="spacingAndGlyphs" >500</text>
<text x="194.5" y="1103.5" font-size="20" textLength="28.8" lengthAdjust="spacingAndGlyphs"  stroke="#fff" stroke-width="0.4">SW</text>
<text x="1140.0" y="1103.5" font-size="20" textLength="28.7" lengthAdjust="spacingAndGlyphs"  stroke="#fff" stroke-width="0.4">NE</text>
<text x="592.0" y="1103.5" font-size="22" textLength="102.0" lengthAdjust="spacingAndGlyphs"  stroke="#fff" stroke-width="0.4">Distance</text>
<text x="709.0" y="1103.5" font-size="22" textLength="46.0" lengthAdjust="spacingAndGlyphs"  stroke="#fff" stroke-width="0.4">(km)</text>
<g transform="translate(135.4,705) rotate(-90)"><text x="0.5" y="0.0" font-size="23" textLength="99.0" lengthAdjust="spacingAndGlyphs"  stroke="#fff" stroke-width="0.4">Pressure</text><text x="114.5" y="0.0" font-size="23" textLength="59.5" lengthAdjust="spacingAndGlyphs"  stroke="#fff" stroke-width="0.4">(hPa)</text></g>
<text x="342.6" y="1171.5" font-size="16.5" textLength="77.0" lengthAdjust="spacingAndGlyphs" fill="#000" stroke="#000" stroke-width="0.25">MAXIMUM</text>
<text x="430.0" y="1171.5" font-size="16.5" textLength="69.6" lengthAdjust="spacingAndGlyphs" fill="#000" stroke="#000" stroke-width="0.25">VECTOR:</text>
<text x="519.5" y="1171.5" font-size="16.5" textLength="36.5" lengthAdjust="spacingAndGlyphs" fill="#000" stroke="#000" stroke-width="0.25">41.4</text>
<text x="565.7" y="1171.5" font-size="16.5" textLength="15.3" lengthAdjust="spacingAndGlyphs" fill="#000" stroke="#000" stroke-width="0.25">m</text>
<text x="592.4" y="1171.5" font-size="16.5" textLength="7.1" lengthAdjust="spacingAndGlyphs" fill="#000" stroke="#000" stroke-width="0.25">s</text>
<text x="626.5" y="1171.5" font-size="16.5" textLength="65.2" lengthAdjust="spacingAndGlyphs" fill="#000" stroke="#000" stroke-width="0.25">(HORIZ)</text>
<text x="778.5" y="1171.5" font-size="16.5" textLength="24.5" lengthAdjust="spacingAndGlyphs" fill="#000" stroke="#000" stroke-width="0.25">8.9</text>
<text x="814.0" y="1171.5" font-size="16.5" textLength="31.8" lengthAdjust="spacingAndGlyphs" fill="#000" stroke="#000" stroke-width="0.25">dPa</text>
<text x="856.0" y="1171.5" font-size="16.5" textLength="7.6" lengthAdjust="spacingAndGlyphs" fill="#000" stroke="#000" stroke-width="0.25">s</text>
<text x="890.2" y="1171.5" font-size="16.5" textLength="56.6" lengthAdjust="spacingAndGlyphs" fill="#000" stroke="#000" stroke-width="0.25">(VERT)</text>
<text x="601.0" y="1166.0" font-size="11" textLength="14.0" lengthAdjust="spacingAndGlyphs" fill="#000" stroke="#000" stroke-width="0.25">−1</text>
<text x="865.3" y="1166.0" font-size="11" textLength="14.7" lengthAdjust="spacingAndGlyphs" fill="#000" stroke="#000" stroke-width="0.25">−1</text>
<text x="284.2" y="1190.0" font-size="16.5" textLength="95.4" lengthAdjust="spacingAndGlyphs" fill="#3c3c3c">CONTOURS:</text>
<text x="398.9" y="1190.0" font-size="16.5" textLength="76.1" lengthAdjust="spacingAndGlyphs" fill="#3c3c3c">UNITS=K</text>
<text x="492.8" y="1190.0" font-size="16.5" textLength="46.8" lengthAdjust="spacingAndGlyphs" fill="#3c3c3c">LOW=</text>
<text x="558.0" y="1190.0" font-size="16.5" textLength="57.2" lengthAdjust="spacingAndGlyphs" fill="#3c3c3c">284.00</text>
<text x="668.0" y="1190.0" font-size="16.5" textLength="55.0" lengthAdjust="spacingAndGlyphs" fill="#3c3c3c">HIGH=</text>
<text x="743.0" y="1190.0" font-size="16.5" textLength="56.3" lengthAdjust="spacingAndGlyphs" fill="#3c3c3c">396.00</text>
<text x="851.7" y="1190.0" font-size="16.5" textLength="94.3" lengthAdjust="spacingAndGlyphs" fill="#3c3c3c">INTERVAL=</text>
<text x="973.2" y="1190.0" font-size="16.5" textLength="56.8" lengthAdjust="spacingAndGlyphs" fill="#3c3c3c">4.0000</text></g>
<path d="M1234.9 1166H1146.4M1165.6 1156.4L1146.4 1166L1165.6 1175.4M1234 1166V1155" fill="none" stroke="#000" stroke-width="1.9"/><path d="M1231.4 1157.4L1234 1153.8L1236.6 1157.4Z" fill="#000"/>
</svg>
</body></html>
